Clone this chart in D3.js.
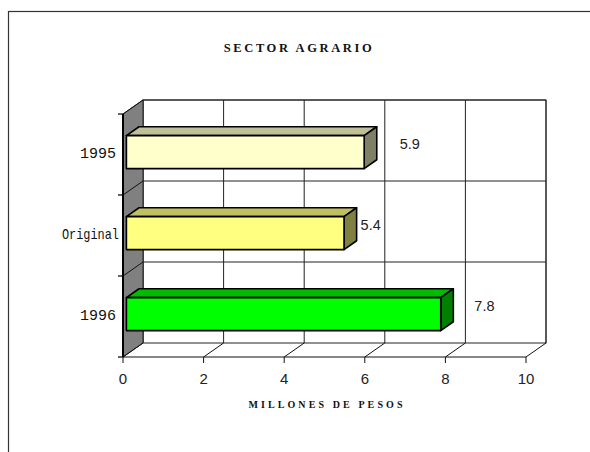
<!DOCTYPE html>
<html><head><meta charset="utf-8">
<script src="https://cdn.jsdelivr.net/npm/d3@7"></script>
<style>body{margin:0;background:#fff}svg{display:block}</style>
</head><body>
<script>
// ---- data ----
const categories = ["1995", "Original", "1996"];
const values = [5.9, 5.4, 7.8];
const valueLabels = ["5.9", "5.4", "7.8"];
const xTicks = [0, 2, 4, 6, 8, 10];
const title = "SECTOR AGRARIO";
const xTitle = "MILLONES DE PESOS";

// ---- styles / layout ----
const faceColors = ["#FFFFCC", "#FFFF80", "#00FF00"];
const topColors = ["#BFBF99", "#C0C060", "#00BB00"];
const sideColors = ["#808066", "#808040", "#008000"];
const labelNudge = [39, 20, 37];

const W = 590, H = 452;
const svg = d3.select("body").append("svg").attr("width", W).attr("height", H);

// outer border
svg.append("rect").attr("x", 8.5).attr("y", 11.5).attr("width", 700).attr("height", 500)
  .attr("fill", "none").attr("stroke", "#333").attr("stroke-width", 1.2);

const x = d3.scaleLinear().domain([0, 10]).range([123, 526]);
const y = d3.scaleBand().domain(categories).range([114, 357]);
const DX = 20, DY = -14; // depth of plot
const y0 = 357;

// back wall
const g = svg.append("g");
g.append("rect").attr("x", x(0) + DX).attr("y", 114 + DY).attr("width", x(10) - x(0)).attr("height", y0 - 114)
  .attr("fill", "#fff").attr("stroke", "#222").attr("stroke-width", 1);
xTicks.forEach(t => {
  g.append("line").attr("x1", x(t) + DX).attr("x2", x(t) + DX).attr("y1", 114 + DY).attr("y2", y0 + DY)
    .attr("stroke", "#222").attr("stroke-width", 1);
});
categories.forEach(c => {
  g.append("line").attr("x1", x(0) + DX).attr("x2", x(10) + DX).attr("y1", y(c) + DY).attr("y2", y(c) + DY)
    .attr("stroke", "#222").attr("stroke-width", 1);
});
// side wall
g.append("polygon").attr("points", [[x(0), 114], [x(0) + DX, 114 + DY], [x(0) + DX, y0 + DY], [x(0), y0]].join(" "))
  .attr("fill", "#808080").attr("stroke", "#222").attr("stroke-width", 1);
categories.forEach(c => {
  g.append("line").attr("x1", x(0)).attr("y1", y(c)).attr("x2", x(0) + DX).attr("y2", y(c) + DY)
    .attr("stroke", "#111").attr("stroke-width", 1);
});
// floor
xTicks.forEach(t => {
  g.append("line").attr("x1", x(t)).attr("y1", y0).attr("x2", x(t) + DX).attr("y2", y0 + DY)
    .attr("stroke", "#111").attr("stroke-width", 1);
  g.append("line").attr("x1", x(t)).attr("y1", y0).attr("x2", x(t)).attr("y2", y0 + 6)
    .attr("stroke", "#111").attr("stroke-width", 1);
});
g.append("line").attr("x1", x(0)).attr("x2", x(10)).attr("y1", y0).attr("y2", y0).attr("stroke", "#111").attr("stroke-width", 1.2);
// left axis
g.append("line").attr("x1", x(0)).attr("x2", x(0)).attr("y1", 114).attr("y2", y0).attr("stroke", "#000").attr("stroke-width", 2);
[...categories.map(c => y(c)), y0].forEach(v => {
  g.append("line").attr("x1", x(0) - 5).attr("x2", x(0)).attr("y1", v).attr("y2", v).attr("stroke", "#000").attr("stroke-width", 1.2);
});

// bars
const f0 = 0.17, f1 = 0.8; // depth fractions of bar front/back
const bh = 33;
values.forEach((v, i) => {
  const c = categories[i];
  const fx = DX * f0, fy = DY * f0, bx = DX * f1, by = DY * f1;
  const xl = x(0) + fx, xr = x(v) + fx;
  const yt = y(c) + (y.bandwidth() - bh) / 2 - 2.4, yb = yt + bh;
  const ddx = bx - fx, ddy = by - fy;
  const bg = svg.append("g").attr("stroke", "#000").attr("stroke-width", 1.6).attr("stroke-linejoin", "round");
  bg.append("polygon").attr("points", [[xl, yt], [xl + ddx, yt + ddy], [xr + ddx, yt + ddy], [xr, yt]].join(" ")).attr("fill", topColors[i]);
  bg.append("polygon").attr("points", [[xr, yt], [xr + ddx, yt + ddy], [xr + ddx, yb + ddy], [xr, yb]].join(" ")).attr("fill", sideColors[i]);
  bg.append("rect").attr("x", xl).attr("y", yt).attr("width", xr - xl).attr("height", bh).attr("fill", faceColors[i]);
  svg.append("text").attr("x", x(v) + labelNudge[i]).attr("y", yt + bh / 2 - 8 + 5)
    .attr("font-family", "Liberation Sans, Arial, sans-serif").attr("font-size", 14.5).attr("fill", "#222")
    .text(valueLabels[i]);
});

// category labels
categories.forEach(c => {
  const t = svg.append("text").attr("x", 116).attr("y", y(c) + y.bandwidth() / 2 - 2 + 5)
    .attr("text-anchor", "end").attr("font-family", "Liberation Mono, Courier New, monospace")
    .attr("font-size", 15).attr("fill", "#111").text(c);
  if (c.length > 4) t.attr("x", 119).attr("textLength", 57).attr("lengthAdjust", "spacingAndGlyphs");
});

// x tick labels
xTicks.forEach(t => {
  svg.append("text").attr("x", x(t)).attr("y", 384).attr("text-anchor", "middle")
    .attr("font-family", "Liberation Sans, Arial, sans-serif").attr("font-size", 15).attr("fill", "#222").text(t);
});

// titles
svg.append("text").attr("x", 299).attr("y", 52).attr("text-anchor", "middle")
  .attr("font-family", "Liberation Serif, Times New Roman, serif").attr("font-weight", "bold")
  .attr("font-size", 12.5).attr("letter-spacing", 2.6).attr("fill", "#111").text(title);
svg.append("text").attr("x", 327).attr("y", 408).attr("text-anchor", "middle")
  .attr("font-family", "Liberation Serif, Times New Roman, serif").attr("font-weight", "bold")
  .attr("font-size", 10).attr("letter-spacing", 3.1).attr("fill", "#111").text(xTitle);
</script>
</body></html>
